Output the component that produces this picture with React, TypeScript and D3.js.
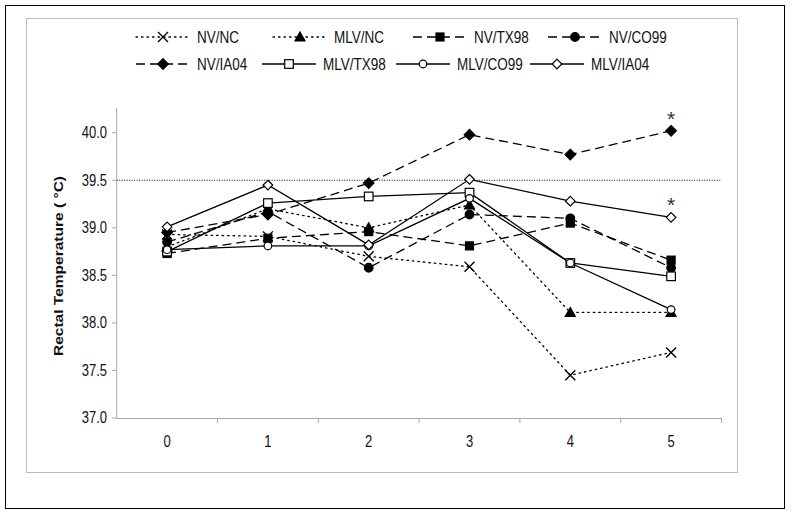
import React from "react";
import * as d3 from "d3";

const days = ["0", "1", "2", "3", "4", "5"];
const yTicks = [37.0, 37.5, 38.0, 38.5, 39.0, 39.5, 40.0];
const threshold = 39.5;

const nvNC = [38.93, 38.91, 38.7, 38.59, 37.45, 37.69];
const mlvNC = [38.8, 39.2, 39.0, 39.24, 38.11, 38.11];
const nvTX98 = [38.73, 38.89, 38.96, 38.81, 39.05, 38.66];
const nvCO99 = [38.85, 39.17, 38.58, 39.14, 39.1, 38.58];
const nvIA04 = [38.95, 39.14, 39.47, 39.98, 39.77, 40.02];
const mlvTX98 = [38.75, 39.26, 39.33, 39.37, 38.63, 38.49];
const mlvCO99 = [38.77, 38.81, 38.81, 39.31, 38.63, 38.14];
const mlvIA04 = [39.01, 39.45, 38.82, 39.51, 39.28, 39.11];

const seriesNames = ["NV/NC", "MLV/NC", "NV/TX98", "NV/CO99", "NV/IA04", "MLV/TX98", "MLV/CO99", "MLV/IA04"];
const seriesValues = [nvNC, mlvNC, nvTX98, nvCO99, nvIA04, mlvTX98, mlvCO99, mlvIA04];
const seriesMarkers = ["x", "triangle", "square", "circle", "diamond", "square", "circle", "diamond"];
const seriesFilled = [true, true, true, true, true, false, false, false];
const seriesDash = ["1.5,4", "1.5,4", "9,5", "9,5", "9,5", "", "", ""];
const significant = [{ series: "NV/IA04", day: "5" }, { series: "MLV/IA04", day: "5" }];

const FONT = "Liberation Sans, Arial, sans-serif";

function Marker({ type, filled, x, y }: { type: string; filled: boolean; x: number; y: number }) {
  const fill = filled ? "#000" : "#fff";
  const sw = 1.2;
  if (type === "x") {
    const r = 5;
    return (
      <path d={`M${x - r},${y - r}L${x + r},${y + r}M${x - r},${y + r}L${x + r},${y - r}`} stroke="#000" strokeWidth={1.4} fill="none" />
    );
  }
  if (type === "triangle") {
    const r = 5;
    return <path d={`M${x},${y - r}L${x + r},${y + r * 0.8}L${x - r},${y + r * 0.8}Z`} fill="#000" stroke="#000" strokeWidth={sw} />;
  }
  if (type === "square") {
    const r = filled ? 4 : 4.3;
    return <rect x={x - r} y={y - r} width={2 * r} height={2 * r} fill={fill} stroke="#000" strokeWidth={sw} />;
  }
  if (type === "circle") {
    const r = filled ? 4.3 : 3.8;
    return <circle cx={x} cy={y} r={r} fill={fill} stroke="#000" strokeWidth={sw} />;
  }
  const r = filled ? 5.3 : 4.8;
  return <path d={`M${x},${y - r}L${x + r},${y}L${x},${y + r}L${x - r},${y}Z`} fill={fill} stroke="#000" strokeWidth={sw} />;
}

function SText({ x, y, anchor, size, children, sy = 1.2 }: { x: number; y: number; anchor?: string; size: number; children: any; sy?: number }) {
  return (
    <text
      transform={`translate(${x},${y}) scale(1,${sy})`}
      dy="0.35em"
      textAnchor={anchor || "start"}
      fontSize={size}
      fill="#111"
    >
      {children}
    </text>
  );
}

export default function App() {
  const W = 800;
  const H = 516;
  const x = d3.scaleBand<string>().domain(days).range([116.7, 721.5]).padding(0);
  const y = d3.scaleLinear().domain([37, 40.26]).range([418, 108]);
  const cx = (d: string) => (x(d) as number) + x.bandwidth() / 2;
  const line = d3
    .line<number>()
    .x((_, i) => cx(days[i]))
    .y((v) => y(v));

  const legendRows = [
    { y: 37, items: [0, 1, 2, 3], lineX: [136, 273, 413, 548] },
    { y: 64, items: [4, 5, 6, 7], lineX: [136, 262, 396, 530] },
  ];
  const legendLen = 54;

  return (
    <svg width={W} height={H} style={{ position: "absolute", left: 0, top: 0, background: "#fff" }} fontFamily={FONT}>
      <rect x={0} y={0} width={W} height={H} fill="#fff" />
      <rect x={5.5} y={5.5} width={779} height={503} fill="none" stroke="#000" strokeWidth={1} />
      <rect x={26.5} y={18.5} width={711} height={454} fill="none" stroke="#bbb" strokeWidth={1} />

      {/* axes */}
      <line x1={116.7} x2={116.7} y1={108} y2={418} stroke="#aaa" strokeWidth={1} />
      <line x1={116.7} x2={721.5} y1={418.5} y2={418.5} stroke="#aaa" strokeWidth={1} />
      {yTicks.map((t) => (
        <g key={t}>
          <line x1={112} x2={116.7} y1={y(t)} y2={y(t)} stroke="#aaa" />
          <SText x={107} y={y(t)} anchor="end" size={13}>
            {t.toFixed(1)}
          </SText>
        </g>
      ))}
      {days.map((d) => (
        <g key={d}>
          <line x1={(x(d) as number) + x.bandwidth()} x2={(x(d) as number) + x.bandwidth()} y1={418} y2={423} stroke="#aaa" />
          <SText x={cx(d)} y={442} anchor="middle" size={13}>
            {d}
          </SText>
        </g>
      ))}
      <text
        transform={`translate(63,266) rotate(-90) scale(1.15,1)`}
        textAnchor="middle"
        fontSize={13.5}
        fontWeight="bold"
        fill="#111"
      >
        {"Rectal Temperature (  \u00B0C)"}
      </text>

      {/* threshold */}
      <line x1={116.7} x2={721.5} y1={y(threshold)} y2={y(threshold)} stroke="#000" strokeWidth={1} strokeDasharray="1,1.5" />

      {/* series lines */}
      {seriesValues.map((vals, i) => (
        <path
          key={seriesNames[i]}
          d={line(vals) as string}
          fill="none"
          stroke="#000"
          strokeWidth={1.3}
          strokeDasharray={seriesDash[i] || undefined}
          strokeLinecap={seriesDash[i].startsWith("1.5") ? "round" : "butt"}
        />
      ))}
      {seriesValues.map((vals, i) => (
        <g key={"m" + seriesNames[i]}>
          {vals.map((v, j) => (
            <Marker key={j} type={seriesMarkers[i]} filled={seriesFilled[i]} x={cx(days[j])} y={y(v)} />
          ))}
        </g>
      ))}

      {/* significance asterisks */}
      {significant.map((s) => {
        const idx = seriesNames.indexOf(s.series);
        const v = seriesValues[idx][days.indexOf(s.day)];
        return (
          <text key={s.series} x={cx(s.day)} y={y(v) - 5} textAnchor="middle" fontSize={21} fill="#333">
            *
          </text>
        );
      })}

      {/* legend */}
      {legendRows.map((row, ri) => (
        <g key={ri}>
          {row.items.map((si, k) => {
            const lx = row.lineX[k];
            return (
              <g key={si}>
                <line
                  x1={lx}
                  x2={lx + legendLen}
                  y1={row.y}
                  y2={row.y}
                  stroke="#000"
                  strokeWidth={1.3}
                  strokeDasharray={seriesDash[si] || undefined}
                  strokeLinecap={seriesDash[si].startsWith("1.5") ? "round" : "butt"}
                />
                <Marker type={seriesMarkers[si]} filled={seriesFilled[si]} x={lx + legendLen / 2} y={row.y} />
                <SText x={lx + legendLen + 7} y={row.y} size={13.5}>
                  {seriesNames[si]}
                </SText>
              </g>
            );
          })}
        </g>
      ))}
    </svg>
  );
}
